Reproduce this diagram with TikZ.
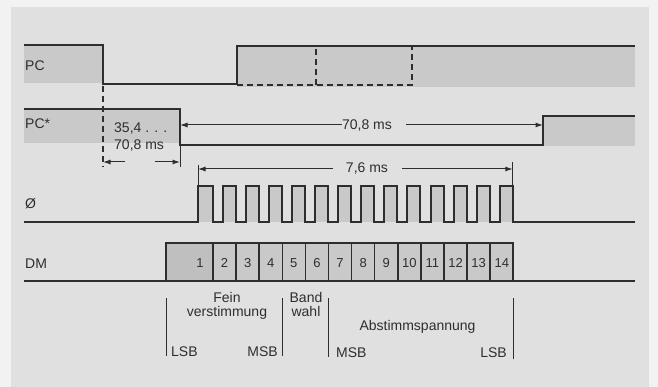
\documentclass[tikz,border=0pt]{standalone}
\usepackage{fontspec}
\setmainfont{Liberation Sans}
\usetikzlibrary{arrows.meta}
\definecolor{paper}{gray}{0.95}
\definecolor{panel}{gray}{0.88}
\definecolor{level}{gray}{0.79}
\definecolor{levelb}{gray}{0.75}
\definecolor{ink}{gray}{0.18}

\begin{document}
\begin{tikzpicture}[
    x=1pt, y=-1pt,
    signal/.style={draw=ink, line width=2pt, line join=miter},
    divider/.style={draw=ink, line width=1.5pt},
    guide/.style={draw=ink, line width=1pt},
    dashline/.style={draw=ink, line width=1.4pt, dash pattern=on 6pt off 4pt},
    dimarrow/.style={draw=ink, line width=1pt, -{Latex[length=7.5pt, width=5pt]}},
    lbl/.style={font=\fontsize{14}{14}\selectfont, text=ink, inner sep=0pt},
    num/.style={font=\fontsize{13}{14}\selectfont, text=ink, inner sep=0pt, anchor=base}
]
\fill[paper] (0,0) rectangle (658,387);
\fill[panel] (11,7) rectangle (649,387);
\useasboundingbox (0,0) rectangle (658,387);

\fill[level] (24,45) rectangle (103,83);
\fill[level] (237,46) rectangle (635,87);
\fill[level] (24,109) rectangle (180,143);
\fill[level] (543,116) rectangle (635,146);
\fill[level] (198,186) rectangle (212.5,222);
\foreach \i in {1,...,13} \fill[level] ({199.5+23.1*\i},186) rectangle ++(13,36);
\fill[level] (213,243) rectangle (513.3,281);
\fill[levelb] (166,243) rectangle (213,281);

\node[lbl, anchor=base west] (pc) at (25,70.7) {PC};
\node[lbl, anchor=base west] (pcs) at (25,129) {PC*};
\node[lbl, anchor=base west] (clk) at (25,209) {Ø};
\node[lbl, anchor=base west] (dm) at (25,269) {DM};

\draw[signal] (24,45) -- (103,45) -- (103,84) -- (237,84) -- (237,46) -- (635,46);
\draw[dashline] (237,85) -- (412,85) -- (412,46) (316,85) -- (316,46);
\draw[signal] (24,109) -- (180,109) -- (180,145) -- (543,145) -- (543,116) -- (635,116);
\draw[signal] (24,222) -- (198,222) -- (198,186) -- (212.5,186) -- (212.5,222)
  \foreach \i in {1,...,13} { -- ({199.5+23.1*\i},222) -- ++(0,-36) -- ++(13,0) -- ++(0,36) } -- (635,222);
\draw[signal] (24,281) -- (166,281) -- (166,243) -- (513.3,243) -- (513.3,281) -- (635,281) (166,281) -- (513.3,281);
\foreach \k in {0,...,12} \draw[divider] ({213+23.1*\k},243) -- ++(0,38);

\node[num] (b1) at (200,268) {1};
\foreach \k in {2,...,14} \node[num] (b\k) at ({224.55+23.1*(\k-2)},268) {\k};

\coordinate (e1) at (103,162);
\coordinate (e2) at (180,162);
\draw[dashline] (103,86) -- (103,167);
\draw[guide] (180,145) -- (180,167);
\draw[dimarrow] (125,162) -- (e1);
\draw[dimarrow] (155,162) -- (e2);
\node[lbl, anchor=base west] (t354) at (114,133) {35,4 . . .};
\node[lbl, anchor=base west] (t708) at (114,150) {70,8 ms};

\node[lbl, anchor=base] (d708) at (367,129.3) {70,8 ms};
\draw[dimarrow] (d708.west |- 0,125) -- (180,125);
\draw[dimarrow] ([xshift=14pt]d708.east |- 0,125) -- (543,125);

\draw[guide] (198,186) -- (198,165);
\draw[guide] (512.8,186) -- (512.8,162);
\node[lbl, anchor=base] (d76) at (367,173) {7,6 ms};
\draw[dimarrow] ([xshift=-13pt]d76.west |- 0,169) -- (198,169);
\draw[dimarrow] ([xshift=14pt]d76.east |- 0,169) -- (512.8,169);

\foreach \x/\b in {166/356, 282.3/356, 328.5/357, 513.3/359} \draw[guide] (\x,298) -- (\x,\b);
\node[lbl, anchor=base, align=center] (fein) at (227,316.7) {Fein\\verstimmung};
\node[lbl, anchor=base, align=center] (band) at (306,316.7) {Band\\wahl};
\node[lbl, anchor=base] (abst) at (417.5,330.5) {Abstimmspannung};
\node[lbl, anchor=base west] (lsba) at (171,356.7) {LSB};
\node[lbl, anchor=base east] (msba) at (278,356.7) {MSB};
\node[lbl, anchor=base west] (msbb) at (336,357.3) {MSB};
\node[lbl, anchor=base east] (lsbb) at (507,357.3) {LSB};
\end{tikzpicture}
\end{document}
